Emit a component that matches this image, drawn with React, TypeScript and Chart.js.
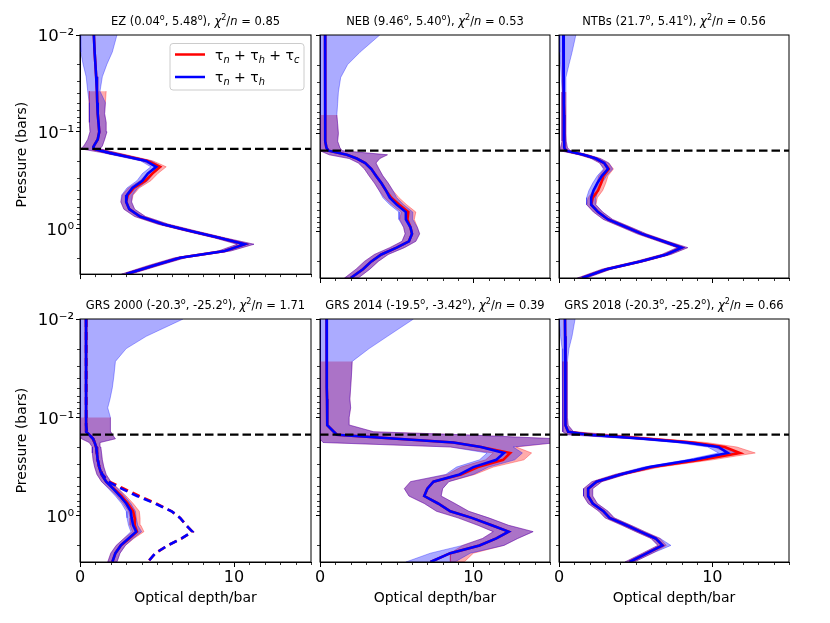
import React, { useEffect, useRef } from "react";
import { Chart, registerables } from "chart.js";

Chart.register(...registerables);

const FAMILY = "'DejaVu Sans', 'Liberation Sans', sans-serif";
const N = null;

// ---------- data ----------
// pressure levels (bar)
const P = [0.01, 0.015, 0.02, 0.027, 0.038, 0.05, 0.065, 0.08, 0.1, 0.12, 0.14, 0.15, 0.165, 0.18, 0.2, 0.23, 0.27, 0.32, 0.38, 0.45, 0.53, 0.63, 0.75, 0.9, 1.05, 1.25, 1.45, 1.7, 2.0, 2.4, 2.95];
const CLOUD_LEVEL = 0.15;
const X_RANGE = [0, 15];
const P_RANGE = [0.01, 2.95];
const X_MAJOR = [0, 10];
const X_MINOR = [1, 2, 3, 4, 5, 6, 7, 8, 9, 11, 12, 13, 14, 15];
const Y_MAJOR = [0.01, 0.1, 1];
const Y_TICK_LABELS = ["10\u207B\u00B2", "10\u207B\u00B9", "10\u2070"];
const Y_MINOR = [0.02, 0.03, 0.04, 0.05, 0.06, 0.07, 0.08, 0.09, 0.2, 0.3, 0.4, 0.5, 0.6, 0.7, 0.8, 0.9, 2];

const PANEL_NAMES = ["EZ", "NEB", "NTBs", "GRS 2000", "GRS 2014", "GRS 2018"];
const PANEL_LAT = ["0.04", "9.46", "21.7", "-20.3", "-19.5", "-20.3"];
const PANEL_LON = ["5.48", "5.40", "5.41", "-25.2", "-3.42", "-25.2"];
const PANEL_CHI2 = ["0.85", "0.53", "0.56", "1.71", "0.39", "0.66"];

// EZ
const EZ_BLUE = [0.9, 0.95, 1.0, 1.05, 1.1, 1.12, 1.15, 1.2, 1.25, 1.15, 0.9, 0.87, 1.9, 3.0, 4.3, 4.95, 4.4, 4.05, 3.4, 3.05, 3.0, 3.2, 3.9, 5.4, 7.1, 9.1, 10.7, 9.4, 6.5, 4.8, 3.0];
const EZ_RED = [0.9, 0.95, 1.0, 1.05, 1.1, 1.12, 1.15, 1.2, 1.25, 1.15, 0.9, 0.87, 1.95, 3.1, 4.4, 5.2, 4.7, 4.25, 3.5, 3.1, 3.0, 3.2, 3.9, 5.4, 7.1, 9.1, 10.7, 9.4, 6.5, 4.8, 3.0];
const EZ_BLUE_LO = [0, 0.05, 0.2, 0.4, 0.5, 0.6, 0.6, 0.62, 0.65, 0.5, 0.25, 0.05, 1.5, 2.6, 3.95, 4.6, 4.05, 3.7, 3.05, 2.7, 2.65, 2.85, 3.55, 5.05, 6.75, 8.75, 10.2, 9.0, 6.15, 4.45, 2.7];
const EZ_BLUE_HI = [2.4, 2.1, 1.75, 1.45, 1.3, 1.65, 1.6, 1.7, 1.75, 1.6, 1.45, 1.3, 2.4, 3.4, 4.65, 5.3, 4.75, 4.4, 3.75, 3.4, 3.35, 3.55, 4.25, 5.75, 7.45, 9.45, 11.3, 9.8, 6.85, 5.15, 3.3];
const EZ_RED_LO = [N, N, N, N, 0.6, 0.6, 0.6, 0.62, 0.65, 0.5, 0.25, 0.05, 1.55, 2.7, 4.05, 4.85, 4.35, 3.9, 3.15, 2.75, 2.65, 2.85, 3.55, 5.05, 6.75, 8.75, 10.2, 9.0, 6.15, 4.45, 2.7];
const EZ_RED_HI = [N, N, N, N, 1.7, 1.65, 1.6, 1.7, 1.75, 1.6, 1.45, 1.3, 2.45, 3.5, 4.75, 5.6, 5.05, 4.6, 3.85, 3.45, 3.35, 3.55, 4.25, 5.75, 7.45, 9.45, 11.3, 9.8, 6.85, 5.15, 3.3];

// NEB
const NEB_BLUE = [0.33, 0.33, 0.33, 0.33, 0.33, 0.34, 0.34, 0.35, 0.35, 0.37, 0.42, 0.55, 1.75, 2.4, 2.95, 3.35, 3.65, 4.0, 4.3, 4.55, 5.0, 5.6, 5.6, 5.9, 6.0, 5.8, 5.0, 4.0, 3.35, 2.8, 2.0];
const NEB_RED = [0.33, 0.33, 0.33, 0.33, 0.33, 0.34, 0.34, 0.35, 0.35, 0.37, 0.42, 0.55, 1.75, 2.4, 2.95, 3.35, 3.65, 4.0, 4.3, 4.65, 5.17, 5.76, 5.7, 5.9, 6.0, 5.8, 5.0, 4.0, 3.35, 2.8, 2.0];
const NEB_BLUE_LO = [0, 0, 0, 0, 0, 0, 0, 0, 0, 0, 0, 0, 0.6, 1.9, 2.5, 2.9, 3.2, 3.55, 3.85, 4.1, 4.55, 5.15, 5.15, 5.45, 5.55, 5.35, 4.55, 3.55, 2.9, 2.35, 1.6];
const NEB_BLUE_HI = [3.9, 2.6, 1.8, 1.35, 1.2, 1.15, 1.1, 1.15, 1.2, 1.15, 1.3, 1.45, 4.4, 3.9, 3.65, 3.85, 4.1, 4.45, 4.75, 5.0, 5.45, 6.05, 6.05, 6.35, 6.5, 6.25, 5.5, 4.45, 3.8, 3.25, 2.5];
const NEB_RED_LO = [N, N, N, N, N, N, 0, 0, 0, 0, 0, 0, 0.6, 1.9, 2.5, 2.9, 3.2, 3.55, 3.85, 4.2, 4.7, 5.3, 5.2, 5.45, 5.55, 5.35, 4.55, 3.55, 2.9, 2.35, 1.6];
const NEB_RED_HI = [N, N, N, N, N, N, 1.1, 1.15, 1.2, 1.15, 1.3, 1.45, 4.4, 3.9, 3.65, 3.85, 4.1, 4.45, 4.75, 5.15, 5.65, 6.25, 6.15, 6.35, 6.5, 6.25, 5.5, 4.45, 3.8, 3.25, 2.5];

// NTBs
const NTBS_BLUE = [0.28, 0.29, 0.3, 0.31, 0.32, 0.32, 0.33, 0.33, 0.33, 0.34, 0.38, 0.45, 1.6, 2.4, 2.95, 3.2, 2.8, 2.5, 2.25, 2.1, 2.1, 2.55, 3.2, 4.4, 5.4, 6.8, 8.0, 7.0, 5.3, 3.1, 1.5];
const NTBS_RED = [0.28, 0.29, 0.3, 0.31, 0.32, 0.32, 0.33, 0.33, 0.33, 0.34, 0.38, 0.45, 1.6, 2.4, 2.95, 3.25, 2.9, 2.75, 2.55, 2.2, 2.1, 2.55, 3.2, 4.4, 5.4, 6.8, 8.0, 7.0, 5.3, 3.1, 1.5];
const NTBS_BLUE_LO = [0, 0.05, 0.1, 0.15, 0.2, 0.2, 0.2, 0.2, 0.2, 0.2, 0.1, 0.05, 1.3, 2.1, 2.65, 2.9, 2.5, 2.2, 1.95, 1.8, 1.8, 2.25, 2.9, 4.1, 5.1, 6.5, 7.7, 6.7, 5.0, 2.8, 1.2];
const NTBS_BLUE_HI = [1.1, 0.85, 0.65, 0.45, 0.45, 0.45, 0.45, 0.45, 0.45, 0.47, 0.55, 0.75, 1.9, 2.7, 3.25, 3.5, 3.1, 2.8, 2.55, 2.4, 2.4, 2.85, 3.5, 4.7, 5.7, 7.1, 8.4, 7.3, 5.6, 3.4, 1.8];
const NTBS_RED_LO = [N, N, N, N, 0.2, 0.2, 0.2, 0.2, 0.2, 0.2, 0.1, 0.05, 1.3, 2.1, 2.65, 2.95, 2.6, 2.45, 2.25, 1.9, 1.8, 2.25, 2.9, 4.1, 5.1, 6.5, 7.7, 6.7, 5.0, 2.8, 1.2];
const NTBS_RED_HI = [N, N, N, N, 0.45, 0.45, 0.45, 0.45, 0.45, 0.47, 0.55, 0.75, 1.9, 2.7, 3.25, 3.55, 3.2, 3.05, 2.85, 2.5, 2.4, 2.85, 3.5, 4.7, 5.7, 7.1, 8.4, 7.3, 5.6, 3.4, 1.8];

// GRS 2000
const GRS00_BLUE = [0.39, 0.39, 0.39, 0.39, 0.39, 0.39, 0.39, 0.39, 0.39, 0.39, 0.45, 0.6, 0.85, 0.95, 1.05, 1.1, 1.15, 1.25, 1.4, 1.7, 2.15, 2.6, 3.0, 3.3, 3.35, 3.45, 3.65, 3.15, 2.65, 2.3, 2.1];
const GRS00_RED = [0.39, 0.39, 0.39, 0.39, 0.39, 0.39, 0.39, 0.39, 0.39, 0.39, 0.45, 0.6, 0.85, 0.95, 1.05, 1.1, 1.15, 1.25, 1.4, 1.7, 2.2, 2.7, 3.1, 3.45, 3.55, 3.55, 3.7, 3.2, 2.65, 2.3, 2.1];
const GRS00_BLUE_DASH = [0.4, 0.4, 0.4, 0.4, 0.4, 0.4, 0.4, 0.4, 0.4, 0.4, 0.45, 0.6, 0.85, 0.95, 1.05, 1.1, 1.15, 1.25, 1.45, 1.84, 2.7, 3.7, 4.87, 5.95, 6.5, 6.9, 7.3, 6.6, 5.7, 4.9, 4.4];
const GRS00_RED_DASH = [0.4, 0.4, 0.4, 0.4, 0.4, 0.4, 0.4, 0.4, 0.4, 0.4, 0.45, 0.6, 0.85, 0.95, 1.05, 1.1, 1.15, 1.25, 1.45, 1.9, 2.85, 3.85, 4.95, 5.95, 6.5, 6.9, 7.3, 6.6, 5.7, 4.9, 4.4];
const GRS00_BLUE_LO = [0, 0, 0, 0, 0, 0, 0, 0, 0, 0, 0, 0, 0.1, 0.6, 0.8, 0.8, 0.85, 0.95, 1.1, 1.4, 1.85, 2.3, 2.7, 3.0, 3.05, 3.15, 3.3, 2.85, 2.35, 2.0, 1.8];
const GRS00_BLUE_HI = [6.7, 4.3, 3.0, 2.3, 2.2, 2.1, 1.95, 1.8, 2.0, 1.95, 2.0, 2.1, 2.3, 1.3, 1.35, 1.4, 1.45, 1.55, 1.7, 2.0, 2.45, 2.9, 3.3, 3.6, 3.65, 3.75, 4.0, 3.45, 2.95, 2.6, 2.4];
const GRS00_RED_LO = [N, N, N, N, N, N, N, N, 0, 0, 0, 0, 0.1, 0.6, 0.8, 0.8, 0.85, 0.95, 1.1, 1.4, 1.9, 2.4, 2.8, 3.15, 3.25, 3.25, 3.4, 2.85, 2.35, 2.0, 1.8];
const GRS00_RED_HI = [N, N, N, N, N, N, N, N, 2.0, 1.95, 2.0, 2.1, 2.3, 1.3, 1.35, 1.4, 1.45, 1.55, 1.7, 2.0, 2.5, 3.0, 3.45, 3.85, 3.9, 3.95, 4.15, 3.5, 2.95, 2.6, 2.4];

// GRS 2014
const GRS14_BLUE = [0.43, 0.43, 0.44, 0.44, 0.45, 0.45, 0.46, 0.47, 0.47, 0.48, 0.9, 1.1, 5.0, 8.7, 10.5, 12.0, 11.5, 10.0, 9.1, 7.4, 7.0, 6.8, 7.7, 8.5, 9.9, 11.2, 12.3, 11.5, 10.4, 8.5, 7.2];
const GRS14_RED = [0.43, 0.43, 0.44, 0.44, 0.45, 0.45, 0.46, 0.47, 0.47, 0.48, 0.9, 1.1, 5.0, 8.7, 10.5, 12.4, 11.95, 10.3, 9.2, 7.4, 7.0, 6.8, 7.7, 8.5, 9.9, 11.2, 12.3, 11.5, 10.4, 8.5, 7.2];
const GRS14_BLUE_LO = [0, 0, 0, 0, 0, 0, 0, 0, 0, 0, 0, 0, 0, 0.2, 8.5, 10.9, 10.4, 8.9, 8.2, 5.9, 5.5, 5.8, 6.8, 7.6, 9.0, 10.3, 11.3, 10.6, 9.3, 7.2, 5.6];
const GRS14_BLUE_HI = [6.1, 4.4, 3.2, 2.1, 2.05, 2.0, 1.95, 2.0, 1.9, 1.95, 3.5, 9.3, 15.5, 15.5, 12.6, 13.2, 12.7, 11.0, 10.0, 8.4, 8.0, 7.9, 8.8, 9.7, 11.0, 12.3, 13.9, 12.9, 12.0, 9.8, 8.8];
const GRS14_RED_LO = [N, N, N, 0, 0, 0, 0, 0, 0, 0, 0, 0, 0, 0.2, 8.5, 11.3, 10.8, 9.2, 8.3, 5.9, 5.5, 5.8, 6.8, 7.6, 9.0, 10.3, 11.3, 10.6, 9.3, 8.5, 8.5];
const GRS14_RED_HI = [N, N, N, 2.1, 2.05, 2.0, 1.95, 2.0, 1.9, 1.95, 3.5, 9.3, 15.5, 15.5, 12.8, 13.8, 13.3, 11.3, 10.1, 8.4, 8.0, 7.9, 8.8, 9.7, 11.0, 12.3, 13.9, 12.9, 12.0, 10.0, 9.4];

// GRS 2018
const GRS18_BLUE = [0.39, 0.4, 0.4, 0.41, 0.41, 0.42, 0.42, 0.43, 0.43, 0.45, 0.6, 1.9, 5.5, 8.3, 10.4, 11.0, 8.8, 5.9, 4.0, 2.45, 1.9, 1.9, 2.2, 2.9, 3.3, 4.4, 5.3, 6.3, 6.75, 5.75, 4.6];
const GRS18_RED = [0.39, 0.4, 0.4, 0.41, 0.41, 0.42, 0.42, 0.43, 0.43, 0.45, 0.6, 2.1, 5.8, 8.7, 10.8, 11.8, 9.3, 6.1, 4.0, 2.45, 1.9, 1.9, 2.2, 2.9, 3.3, 4.4, 5.3, 6.3, 6.75, 5.75, 4.6];
const GRS18_BLUE_LO = [0, 0.1, 0.2, 0.25, 0.25, 0.25, 0.25, 0.25, 0.25, 0.25, 0.2, 0.5, 4.7, 7.6, 9.7, 10.4, 8.3, 5.5, 3.65, 2.15, 1.6, 1.6, 1.9, 2.6, 3.0, 4.1, 5.0, 6.0, 6.45, 5.45, 4.3];
const GRS18_BLUE_HI = [1.05, 0.85, 0.65, 0.55, 0.55, 0.55, 0.55, 0.55, 0.55, 0.6, 0.95, 3.3, 6.3, 9.0, 10.9, 11.5, 9.3, 6.3, 4.35, 2.8, 2.2, 2.2, 2.5, 3.2, 3.6, 4.7, 5.6, 6.6, 7.3, 6.1, 4.9];
const GRS18_RED_LO = [N, N, N, 0.25, 0.25, 0.25, 0.25, 0.25, 0.25, 0.25, 0.2, 0.6, 5.0, 8.0, 10.1, 11.0, 8.8, 5.7, 3.65, 2.15, 1.6, 1.6, 1.9, 2.6, 3.0, 4.1, 5.0, 6.0, 6.45, 5.45, 4.3];
const GRS18_RED_HI = [N, N, N, 0.55, 0.55, 0.55, 0.55, 0.55, 0.55, 0.6, 0.95, 3.6, 6.7, 9.6, 11.6, 12.8, 10.0, 6.6, 4.35, 2.8, 2.2, 2.2, 2.5, 3.2, 3.6, 4.7, 5.6, 6.6, 7.0, 6.1, 4.9];

const BLUE_LINES = [EZ_BLUE, NEB_BLUE, NTBS_BLUE, GRS00_BLUE, GRS14_BLUE, GRS18_BLUE];
const RED_LINES = [EZ_RED, NEB_RED, NTBS_RED, GRS00_RED, GRS14_RED, GRS18_RED];
const BLUE_LOS = [EZ_BLUE_LO, NEB_BLUE_LO, NTBS_BLUE_LO, GRS00_BLUE_LO, GRS14_BLUE_LO, GRS18_BLUE_LO];
const BLUE_HIS = [EZ_BLUE_HI, NEB_BLUE_HI, NTBS_BLUE_HI, GRS00_BLUE_HI, GRS14_BLUE_HI, GRS18_BLUE_HI];
const RED_LOS = [EZ_RED_LO, NEB_RED_LO, NTBS_RED_LO, GRS00_RED_LO, GRS14_RED_LO, GRS18_RED_LO];
const RED_HIS = [EZ_RED_HI, NEB_RED_HI, NTBS_RED_HI, GRS00_RED_HI, GRS14_RED_HI, GRS18_RED_HI];
const BLUE_DASHES = [N, N, N, GRS00_BLUE_DASH, N, N];
const RED_DASHES = [N, N, N, GRS00_RED_DASH, N, N];

// ---------- styling / layout ----------
const RED = "#ff0000";
const BLUE = "#0000ff";
const RED_FILL = "rgba(255,0,0,0.33)";
const BLUE_FILL = "rgba(0,0,255,0.33)";

const COL_LEFT = [80, 320, 559];
const COL_W = [231, 230, 230];
const ROW_TOP = [35, 319];
const ROW_H = 243;
const PAD_TOP = 30;
const PAD_RIGHT = 10;
const Y_W = [80, 10, 10];
const X_H = [8, 45];

type Seg = { t: string; sup?: boolean; sub?: boolean; it?: boolean };

function drawRich(ctx: CanvasRenderingContext2D, segs: Seg[], x: number, baseline: number, size: number, align: "left" | "center") {
  const items = segs.map((s) => {
    const fs = s.sup || s.sub ? size * 0.7 : size;
    const font = `${s.it ? "italic " : ""}${fs}px ${FAMILY}`;
    ctx.font = font;
    return { t: s.t, font, w: ctx.measureText(s.t).width, dy: s.sup ? -size * 0.4 : s.sub ? size * 0.22 : 0 };
  });
  const total = items.reduce((a, b) => a + b.w, 0);
  let cx = align === "center" ? x - total / 2 : x;
  ctx.textAlign = "left";
  ctx.textBaseline = "alphabetic";
  ctx.fillStyle = "#000";
  for (const it of items) {
    ctx.font = it.font;
    ctx.fillText(it.t, cx, baseline + it.dy);
    cx += it.w;
  }
}

const titleSegs = (i: number): Seg[] => [
  { t: `${PANEL_NAMES[i]} (${PANEL_LAT[i]}` },
  { t: "o", sup: true },
  { t: `, ${PANEL_LON[i]}` },
  { t: "o", sup: true },
  { t: "), " },
  { t: "\u03C7", it: true },
  { t: "2", sup: true },
  { t: "/" },
  { t: "n", it: true },
  { t: ` = ${PANEL_CHI2[i]}` },
];

const LEGEND_ITEMS: { color: string; segs: Seg[] }[] = [
  { color: RED, segs: [{ t: "\u03C4" }, { t: "n", sub: true, it: true }, { t: " + \u03C4" }, { t: "h", sub: true, it: true }, { t: " + \u03C4" }, { t: "c", sub: true, it: true }] },
  { color: BLUE, segs: [{ t: "\u03C4" }, { t: "n", sub: true, it: true }, { t: " + \u03C4" }, { t: "h", sub: true, it: true }] },
];

const profile = (xs: (number | null)[]) =>
  xs.map((x, i) => (x == null ? null : { x, y: P[i] })).filter((p) => p !== null) as { x: number; y: number }[];

const bandPolygon = (lo: (number | null)[], hi: (number | null)[]) => {
  const pts: { x: number; y: number }[] = [];
  for (let i = 0; i < P.length; i++) if (lo[i] != null) pts.push({ x: lo[i] as number, y: P[i] });
  for (let i = P.length - 1; i >= 0; i--) if (hi[i] != null) pts.push({ x: hi[i] as number, y: P[i] });
  return pts;
};

function makeDecor(idx: number) {
  return {
    id: "decor" + idx,
    afterDraw(chart: any) {
      const { ctx, chartArea: a, scales } = chart;
      const xs = scales.x;
      const ys = scales.y;
      ctx.save();
      ctx.strokeStyle = "#000";
      ctx.lineWidth = 0.8;
      ctx.beginPath();
      for (const v of X_MINOR) {
        const px = Math.round(xs.getPixelForValue(v)) + 0.5;
        ctx.moveTo(px, a.bottom);
        ctx.lineTo(px, a.bottom + 3);
      }
      for (const v of Y_MINOR) {
        const py = Math.round(ys.getPixelForValue(v)) + 0.5;
        ctx.moveTo(a.left, py);
        ctx.lineTo(a.left - 3, py);
      }
      ctx.stroke();
      ctx.lineWidth = 1;
      ctx.strokeRect(a.left, a.top, a.right - a.left, a.bottom - a.top);
      drawRich(ctx, titleSegs(idx), (a.left + a.right) / 2, a.top - 10, 11.5, "center");
      if (idx === 0) {
        const bx = a.left + 90, by = a.top + 8.5, bw = 134, bh = 46.5, r = 3;
        ctx.beginPath();
        ctx.moveTo(bx + r, by);
        ctx.arcTo(bx + bw, by, bx + bw, by + bh, r);
        ctx.arcTo(bx + bw, by + bh, bx, by + bh, r);
        ctx.arcTo(bx, by + bh, bx, by, r);
        ctx.arcTo(bx, by, bx + bw, by, r);
        ctx.closePath();
        ctx.fillStyle = "rgba(255,255,255,0.8)";
        ctx.fill();
        ctx.strokeStyle = "#cccccc";
        ctx.lineWidth = 1;
        ctx.stroke();
        LEGEND_ITEMS.forEach((item, k) => {
          const ly = by + 11 + k * 22.5;
          ctx.strokeStyle = item.color;
          ctx.lineWidth = 2.5;
          ctx.beginPath();
          ctx.moveTo(bx + 5, ly);
          ctx.lineTo(bx + 35, ly);
          ctx.stroke();
          drawRich(ctx, item.segs, bx + 45, ly + 5, 14, "left");
        });
      }
      ctx.restore();
    },
  };
}

function Panel({ idx }: { idx: number }) {
  const ref = useRef<HTMLCanvasElement>(null);
  const row = Math.floor(idx / 3);
  const col = idx % 3;
  const left = COL_LEFT[col] - Y_W[col];
  const top = ROW_TOP[row] - PAD_TOP;
  const width = Y_W[col] + COL_W[col] + PAD_RIGHT;
  const height = PAD_TOP + ROW_H + X_H[row];

  useEffect(() => {
    if (!ref.current) return;
    const line = (data: any, color: string, width: number, order: number, dash: number[] = []) => ({
      data,
      borderColor: color,
      backgroundColor: color,
      borderWidth: width,
      borderDash: dash,
      pointRadius: 0,
      tension: 0,
      fill: false,
      order,
    });
    const band = (data: any, color: string, order: number) => ({
      data,
      borderColor: color,
      backgroundColor: color,
      borderWidth: 1,
      pointRadius: 0,
      tension: 0,
      fill: "shape",
      order,
    });
    const datasets: any[] = [
      band(bandPolygon(RED_LOS[idx], RED_HIS[idx]), RED_FILL, 9),
      band(bandPolygon(BLUE_LOS[idx], BLUE_HIS[idx]), BLUE_FILL, 8),
      line(profile(RED_LINES[idx]), RED, 2.6, 5),
      line(profile(BLUE_LINES[idx]), BLUE, 2.6, 4),
      line(X_RANGE.map((x) => ({ x, y: CLOUD_LEVEL })), "#000", 2.3, 1, [8.5, 4]),
    ];
    const rd = RED_DASHES[idx];
    const bd = BLUE_DASHES[idx];
    if (rd) datasets.push(line(profile(rd), RED, 2.6, 3, [8, 5]));
    if (bd) datasets.push(line(profile(bd), BLUE, 2.6, 2, [8, 5]));

    const chart = new Chart(ref.current, {
      type: "line",
      data: { datasets },
      options: {
        animation: false,
        responsive: true,
        maintainAspectRatio: false,
        events: [],
        layout: { padding: { top: PAD_TOP, right: PAD_RIGHT, left: 0, bottom: 0 } },
        plugins: { legend: { display: false }, tooltip: { enabled: false }, title: { display: false } },
        scales: {
          x: {
            type: "linear",
            min: X_RANGE[0],
            max: X_RANGE[1],
            bounds: "data",
            afterBuildTicks: (s: any) => {
              s.ticks = X_MAJOR.map((value) => ({ value }));
            },
            afterFit: (s: any) => {
              s.height = X_H[row];
            },
            ticks: {
              display: row === 1,
              autoSkip: false,
              maxRotation: 0,
              padding: 1,
              color: "#000",
              font: { family: FAMILY, size: 16 },
              callback: (v: any) => String(v),
            },
            grid: { drawOnChartArea: false, drawTicks: true, tickLength: 5, color: "#000", lineWidth: 1 },
            border: { display: true, color: "#000", width: 1 },
            title: {
              display: row === 1,
              text: "Optical depth/bar",
              color: "#000",
              font: { family: FAMILY, size: 14 },
              padding: { top: 0, bottom: 0 },
            },
          },
          y: {
            type: "logarithmic",
            min: P_RANGE[0],
            max: P_RANGE[1],
            reverse: true,
            bounds: "data",
            afterBuildTicks: (s: any) => {
              s.ticks = Y_MAJOR.map((value) => ({ value }));
            },
            afterFit: (s: any) => {
              s.width = Y_W[col];
            },
            ticks: {
              display: col === 0,
              autoSkip: false,
              padding: 2,
              labelOffset: 2,
              color: "#000",
              font: { family: FAMILY, size: 16.5 },
              callback: (v: any) => {
                const k = Y_MAJOR.indexOf(Number(v));
                return k >= 0 ? Y_TICK_LABELS[k] : "";
              },
            },
            grid: { drawOnChartArea: false, drawTicks: true, tickLength: 4, color: "#000", lineWidth: 1 },
            border: { display: true, color: "#000", width: 1 },
            title: {
              display: col === 0,
              text: "Pressure (bars)",
              color: "#000",
              font: { family: FAMILY, size: 14 },
              padding: { top: 13.5, bottom: 0 },
            },
          },
        },
      } as any,
      plugins: [makeDecor(idx)],
    });
    return () => chart.destroy();
  }, [idx]);

  return (
    <div style={{ position: "absolute", left, top, width, height }}>
      <canvas ref={ref} />
    </div>
  );
}

export default function App() {
  return (
    <div style={{ position: "absolute", left: 0, top: 0, width: 830, height: 623, background: "#fff", overflow: "hidden" }}>
      {[0, 1, 2, 3, 4, 5].map((i) => (
        <Panel key={i} idx={i} />
      ))}
    </div>
  );
}
